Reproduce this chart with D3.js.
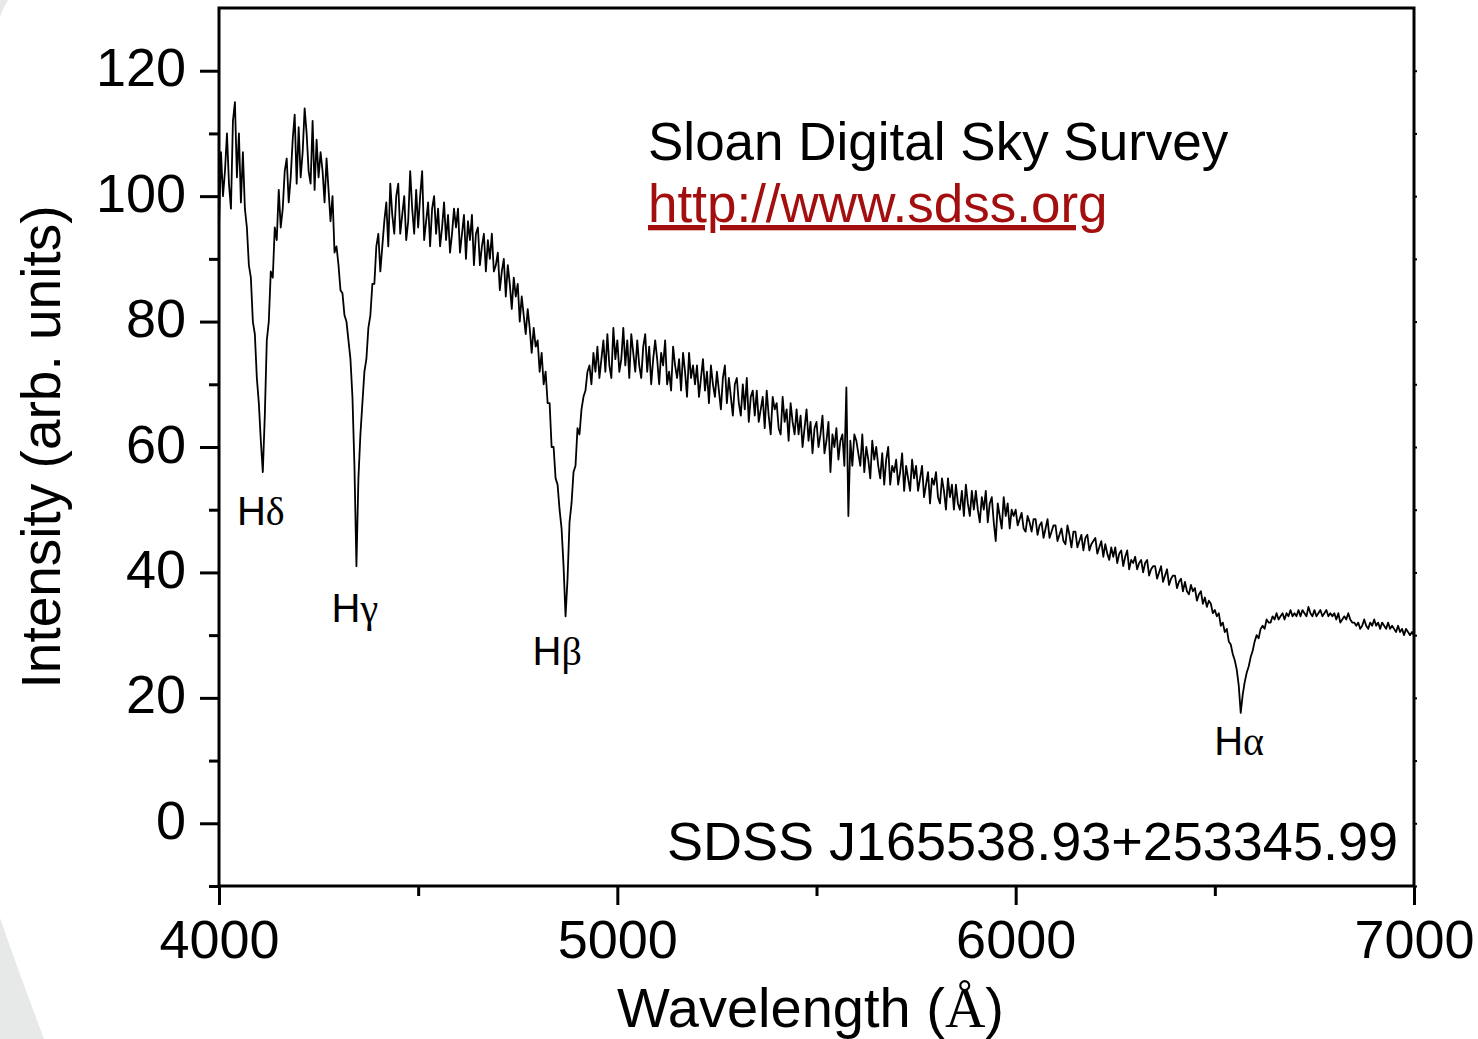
<!DOCTYPE html>
<html>
<head>
<meta charset="utf-8">
<script src="https://cdn.jsdelivr.net/npm/d3@7"></script>
<style>
  body { margin: 0; background: #fff; }
  svg { display: block; }
</style>
</head>
<body>
<div id="chart"></div>
<script>
const lambdaStart = 4000;
const lambdaStep = 5;

const flux_4000 = [
  95, 107, 100, 104, 110, 102, 98, 112, 115, 103,
  110, 99, 107, 98, 95, 89, 87, 80, 78, 71,
  67, 61, 56, 65, 77, 80, 88, 87, 95, 93,
  101, 95, 98, 104, 106, 99, 103, 109, 113, 102,
  111, 103, 107, 114, 110, 104, 102, 112, 101, 109,
  103, 107, 104, 99, 106, 101, 96, 100, 91, 92,
  89, 85, 84.5, 81, 80, 77, 74, 68, 57, 41,
  55, 62, 67, 72, 74, 79, 81, 86, 86, 92,
  94, 88, 92, 96, 99, 92, 102, 97, 94, 100,
  102, 94, 97, 100, 93, 96, 104, 98, 94, 101
];
const flux_4500 = [
  95, 100, 104, 93, 96, 99, 92, 98, 100, 94,
  98, 92, 95, 99, 93, 97, 91, 94, 98, 95,
  98, 91, 94, 97, 90, 96, 93, 97, 89, 94,
  95, 89, 92, 94, 88, 93, 90, 94, 88, 89,
  91, 85, 88, 90, 84, 89, 86, 82, 87, 84,
  86, 80, 84, 81, 78, 82, 79, 75, 79, 76,
  77, 72, 75, 70, 72, 67, 67, 60, 60, 55,
  54, 50, 47, 41, 33, 39, 48, 51, 56, 57,
  63, 62, 66, 68, 69, 72, 73, 70, 75, 72,
  76, 71, 74, 77, 72, 78, 73, 71, 79, 74
];
const flux_5000 = [
  77, 72, 74, 79, 73, 77, 71, 78, 75, 72,
  77, 73, 71, 76, 78, 72, 76, 70, 74, 77,
  74, 70, 75, 73, 77, 70, 72, 69, 76, 73,
  71, 74, 69, 75, 72, 68, 75, 71, 73, 70,
  73, 68, 71, 74, 69, 72, 67, 73, 70, 68,
  72, 69, 66, 71, 73, 67, 71, 68, 65, 70,
  71, 67, 65, 70, 66, 71, 64, 68, 69, 65,
  69, 64, 66, 68, 63, 69, 65, 62, 68, 66,
  67, 63, 62, 68, 64, 66, 61, 67, 64, 62,
  66, 62, 65, 60, 63, 66, 61, 64, 59, 63
];
const flux_5500 = [
  64, 60, 62, 65, 59, 61, 64, 56, 62, 60,
  63, 58, 61, 62, 57, 69.5, 49, 61, 57, 62,
  61, 59, 57, 62, 56, 60, 58, 55, 61, 58,
  60, 57, 55, 59, 54, 58, 60, 54, 57, 56,
  58, 54, 56, 59, 53, 57, 55, 53, 58, 55,
  57, 53, 55, 57, 52, 54, 56, 51, 55, 54,
  56, 52, 51, 55, 53, 50, 55, 52, 54, 50,
  54, 51, 50, 53, 49, 54, 51, 49, 53, 50,
  53, 50, 48, 52, 50, 53, 48, 51, 52, 48,
  45, 51, 49, 47, 52, 49, 51, 47, 50, 49
];
const flux_6000 = [
  50, 47.5, 48.5, 49.5, 47, 46.5, 49, 48, 46.5, 48.5,
  48.5, 46, 47.5, 48, 45.5, 47, 48.5, 45.5, 46.5, 47.5,
  47.5, 45, 46, 47, 45, 44.5, 47.5, 46, 44, 46.5,
  46.5, 44, 45, 46, 43.5, 45.5, 46, 43.5, 44.5, 45,
  45.5, 43, 44, 45, 42.5, 44.5, 43, 42, 44, 42.5,
  44, 41.5, 43, 43.5, 41, 42.5, 43.5, 40.5, 42, 41.5,
  42.5, 40.5, 41.5, 42, 40, 41.5, 42, 39.5, 40.5, 41,
  41, 39, 40, 41, 38.5, 39.5, 40.5, 38, 39, 39.5,
  39.5, 37.5, 38.5, 39, 37, 38.5, 37, 36.5, 38, 37,
  37.5, 35.5, 36.5, 37, 35, 36, 34.5, 35.5, 35, 33.5
];
const flux_6500 = [
  34, 33, 33.5, 31.5, 32, 30.5, 31, 29, 28.5, 27,
  26, 24.5, 22, 17.6, 20.5, 22.5, 24, 25, 26.5, 27.5,
  29, 30, 29.5, 31, 31.5, 31, 32.5, 32, 32, 33,
  32.5, 33.5, 32.5, 33, 33.5, 32.5, 33.5, 33, 34, 33,
  33.5, 33, 34, 33, 34, 33.5, 33, 34.5, 33.5, 33,
  34, 33, 33.5, 34, 33, 33.5, 34, 33, 33.5, 33,
  33.5, 32.5, 33.5, 32, 32.5, 33, 32.5, 33.5, 32.5, 32,
  32, 31.5, 32, 31, 31.5, 32.5, 31.5, 31, 32, 31.5,
  32.5, 31.5, 32, 31, 32, 31.5, 31, 32, 31, 31.5,
  31, 30.5, 31.5, 30.5, 31, 30, 31, 30.5, 30, 30.5,
  30
];

// Axis ticks
const xMajorTicks = [4000, 5000, 6000, 7000];
const xMinorTicks = [4500, 5500, 6500];
const yMajorTicks = [0, 20, 40, 60, 80, 100, 120];
const yMinorTicks = [-10, 10, 30, 50, 70, 90, 110];

// Balmer line labels (label centre wavelength, baseline intensity)
const lineNames = ['δ', 'γ', 'β', 'α'];
const lineLambda = [4105, 4341, 4849, 6561];
const lineLabelLevel = [47.5, 32.1, 25.2, 10.9];

const W = 1478, H = 1039;
const margin = { left: 219, right: 64, top: 8, bottom: 153 };
const sans = '"Liberation Sans", Arial, Helvetica, sans-serif';
const serif = '"Liberation Serif", "Times New Roman", serif';

const svg = d3.select('#chart')
  .append('svg')
  .attr('width', W)
  .attr('height', H);

svg.append('rect').attr('width', W).attr('height', H).attr('fill', '#fff');

// Faint slide-background shapes at the left edge
svg.append('path')
  .attr('d', 'M0,918 Q18,970 44,1039 L0,1039 Z')
  .attr('fill', '#e7e8e8');
svg.append('path')
  .attr('d', 'M0,0 L8,0 Q3,8 0,17 Z')
  .attr('fill', '#e7e8e8');

const x = d3.scaleLinear()
  .domain([4000, 7000])
  .range([margin.left, W - margin.right]);

const y = d3.scaleLinear()
  .domain([-10, 130])
  .range([H - margin.bottom, margin.top]);

// Build the spectrum
const flux = [].concat(flux_4000, flux_4500, flux_5000, flux_5500, flux_6000, flux_6500);
const spectrum = flux.map((v, i) => ({ lambda: lambdaStart + i * lambdaStep, v }));

const line = d3.line()
  .x(d => x(d.lambda))
  .y(d => y(d.v));

svg.append('path')
  .datum(spectrum)
  .attr('d', line)
  .attr('fill', 'none')
  .attr('stroke', '#000')
  .attr('stroke-width', 1.8)
  .attr('stroke-linejoin', 'round');

// Axes
const axisStyle = (g) => {
  g.select('.domain').remove();
  g.selectAll('.tick line').attr('stroke', '#000').attr('stroke-width', 3);
  g.selectAll('.tick text')
    .attr('fill', '#000')
    .style('font-family', sans)
    .style('font-size', '54px');
};

const yAxisG = svg.append('g').attr('transform', `translate(${margin.left},0)`);
yAxisG.append('g')
  .call(d3.axisLeft(y).tickValues(yMinorTicks).tickSize(10).tickFormat(''))
  .call(axisStyle);
yAxisG.append('g')
  .call(d3.axisLeft(y).tickValues(yMajorTicks).tickSize(19).tickPadding(14))
  .call(axisStyle)
  .selectAll('.tick text').attr('dy', '0.28em');

const xAxisG = svg.append('g').attr('transform', `translate(0,${H - margin.bottom})`);
xAxisG.append('g')
  .call(d3.axisBottom(x).tickValues(xMinorTicks).tickSize(10).tickFormat(''))
  .call(axisStyle);
xAxisG.append('g')
  .call(d3.axisBottom(x).tickValues(xMajorTicks).tickSize(19).tickPadding(15).tickFormat(d3.format('d')))
  .call(axisStyle);

// Tiny ticks on the right frame
svg.append('g')
  .attr('transform', `translate(${W - margin.right},0)`)
  .call(d3.axisRight(y).tickValues(yMajorTicks.concat(yMinorTicks)).tickSize(3).tickFormat(''))
  .call(g => {
    g.select('.domain').remove();
    g.selectAll('.tick line').attr('stroke', '#000').attr('stroke-width', 2);
  });

// Frame
svg.append('rect')
  .attr('x', margin.left)
  .attr('y', margin.top)
  .attr('width', W - margin.left - margin.right)
  .attr('height', H - margin.top - margin.bottom)
  .attr('fill', 'none')
  .attr('stroke', '#000')
  .attr('stroke-width', 3);

// Axis titles
const xTitle = svg.append('text')
  .attr('x', (margin.left + W - margin.right) / 2 - 6)
  .attr('y', 1027)
  .attr('text-anchor', 'middle')
  .style('font-family', sans)
  .style('font-size', '56px');
xTitle.append('tspan').text('Wavelength (');
xTitle.append('tspan').style('font-family', serif).text('Å');
xTitle.append('tspan').text(')');

svg.append('text')
  .attr('transform', `translate(60,${(margin.top + H - margin.bottom) / 2}) rotate(-90)`)
  .attr('text-anchor', 'middle')
  .style('font-family', sans)
  .style('font-size', '55px')
  .text('Intensity (arb. units)');

// Balmer line labels
lineNames.forEach((g, i) => {
  const t = svg.append('text')
    .attr('x', x(lineLambda[i]))
    .attr('y', y(lineLabelLevel[i]))
    .attr('text-anchor', 'middle')
    .style('font-family', sans)
    .style('font-size', '40px');
  t.append('tspan').text('H');
  t.append('tspan').style('font-family', serif).text(g);
});

// Annotations
svg.append('text')
  .attr('x', 648).attr('y', 160)
  .style('font-family', sans).style('font-size', '53px')
  .text('Sloan Digital Sky Survey');

svg.append('text')
  .attr('x', 648).attr('y', 222)
  .attr('fill', '#a30f0f')
  .style('font-family', sans).style('font-size', '53px')
  .style('text-decoration', 'underline')
  .text('http://www.sdss.org');

svg.append('text')
  .attr('x', 1398).attr('y', 860)
  .attr('text-anchor', 'end')
  .style('font-family', sans).style('font-size', '54px')
  .text('SDSS J165538.93+253345.99');
</script>
</body>
</html>
